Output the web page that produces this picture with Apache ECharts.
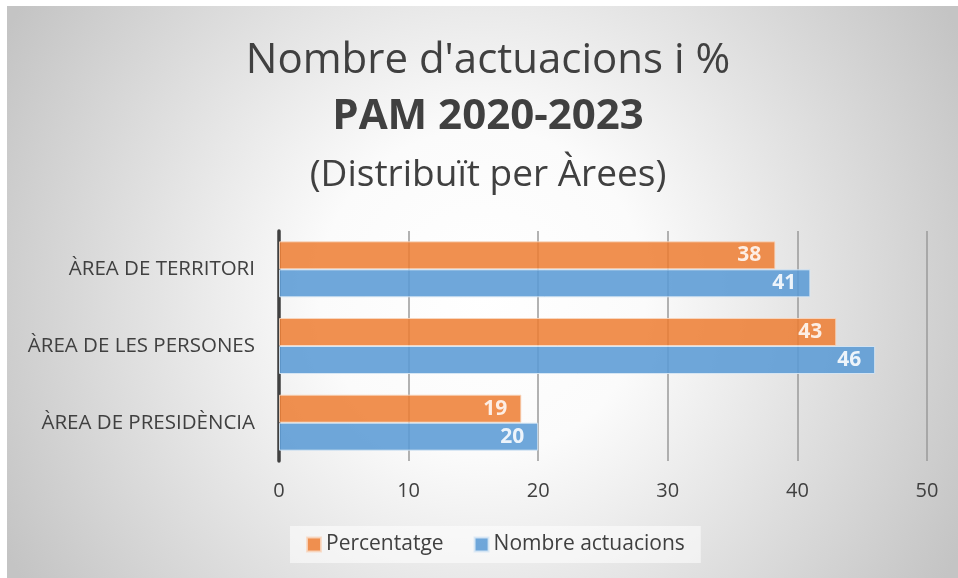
<!DOCTYPE html>
<html>
<head>
<meta charset="utf-8">
<script src="https://cdn.jsdelivr.net/npm/echarts@6/dist/echarts.min.js"></script>
<style>
html,body{margin:0;padding:0;background:#fff;}
#chart{width:958px;height:578px;}
</style>
</head>
<body>
<div id="chart"></div>
<script>
// dades llegides del gràfic
var arees = ['ÀREA DE PRESIDÈNCIA', 'ÀREA DE LES PERSONES', 'ÀREA DE TERRITORI'];
var percentatge = [18.7, 43.0, 38.3];
var nombreActuacions = [20, 46, 41];
var titols = ["Nombre d'actuacions i %", 'PAM 2020-2023', '(Distribuït per Àrees)'];

var font = '"Open Sans", sans-serif';
var myChart = echarts.init(document.getElementById('chart'));

function etiqueta(){
    return {
        show: true,
        position: 'insideRight',
        distance: 14,
        color: '#fff',
        fontWeight: 'bold',
        fontSize: 21,
        fontFamily: font,
        formatter: function(p){ return Math.round(p.value); }
    };
}

function titol(txt, y, mida, pes){
    return {
        type: 'text',
        x: 488,
        y: y,
        style: {
            text: txt,
            textAlign: 'center',
            textVerticalAlign: 'middle',
            font: pes + ' ' + mida + 'px "Open Sans", sans-serif',
            fill: '#404040'
        }
    };
}

var option = {
    animation: false,
    backgroundColor: '#fff',
    graphic: [{
        type: 'rect',
        z: -10,
        shape: {x: 7, y: 6, width: 951, height: 572},
        style: {
            fill: {
                type: 'radial', x: 0.5, y: 0.5, r: 0.95,
                colorStops: [
                    {offset: 0, color: '#ffffff'},
                    {offset: 0.3, color: '#fbfbfb'},
                    {offset: 1, color: '#c4c4c4'}
                ]
            }
        }
    },
        titol(titols[0], 61, 42, 'normal'),
        titol(titols[1], 117, 42, 'bold'),
        titol(titols[2], 175, 37, 'normal')
    ],
    legend: {
        data: ['Percentatge', 'Nombre actuacions'],
        left: 290,
        top: 526,
        itemWidth: 14,
        itemHeight: 14,
        itemGap: 30,
        icon: 'rect',
        padding: [8, 16],
        backgroundColor: 'rgba(255,255,255,0.55)',
        textStyle: {fontFamily: font, fontSize: 21, color: '#404040'}
    },
    grid: {
        left: 279,
        right: 31,
        top: 231,
        bottom: 117
    },
    xAxis: {
        type: 'value',
        min: 0,
        max: 50,
        interval: 10,
        axisLine: {show: false},
        axisTick: {show: false},
        splitLine: {lineStyle: {color: '#9a9a9a', width: 1.5}},
        axisLabel: {fontFamily: font, fontSize: 20, color: '#404040', margin: 20}
    },
    yAxis: {
        type: 'category',
        data: arees,
        axisLine: {lineStyle: {color: '#404040', width: 3.5}},
        axisTick: {show: false},
        axisLabel: {fontFamily: font, fontSize: 20.5, color: '#404040', margin: 24}
    },
    series: [
        {
            name: 'Percentatge',
            type: 'bar',
            data: percentatge,
            barWidth: 28,
            barGap: '0%',
            barCategoryGap: '27%',
            itemStyle: {color: '#ed7d31', opacity: 0.85, borderColor: '#f8d8c2', borderWidth: 1},
            label: etiqueta()
        },
        {
            name: 'Nombre actuacions',
            type: 'bar',
            data: nombreActuacions,
            barWidth: 28,
            itemStyle: {color: '#5b9bd5', opacity: 0.88, borderColor: '#d9e8f5', borderWidth: 1},
            label: etiqueta()
        }
    ]
};
myChart.setOption(option);
</script>
</body>
</html>
